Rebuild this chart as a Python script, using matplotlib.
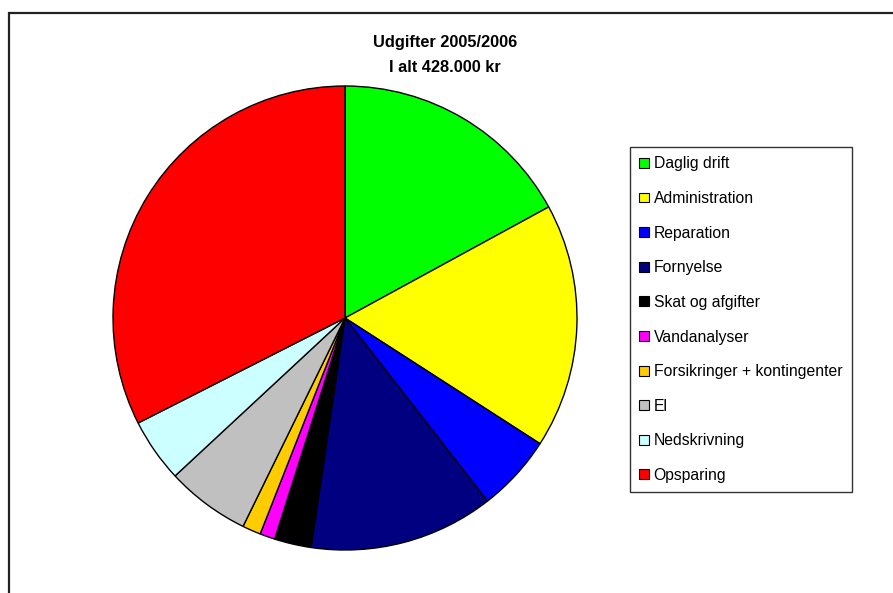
import matplotlib.pyplot as plt
from matplotlib.patches import Patch, Rectangle

# udgifter i kr
kategorier = ["Daglig drift", "Administration", "Reparation", "Fornyelse",
              "Skat og afgifter", "Vandanalyser", "Forsikringer + kontingenter",
              "El", "Nedskrivning", "Opsparing"]
beloeb = [73000, 73000, 23000, 55000, 11000, 4500, 5500, 25000, 19000, 139000]
farver = ["#00FF00", "#FFFF00", "#0000FF", "#000080", "#000000",
          "#FF00FF", "#FFCC00", "#C0C0C0", "#CCFFFF", "#FF0000"]

plt.rcParams['font.family'] = ['Liberation Sans', 'DejaVu Sans']

W, H = 893, 593
fig = plt.figure(figsize=(W / 100, H / 100), dpi=100)

# ramme (diagramområde, beskåret)
fig.patches.append(Rectangle((9 / W, -0.1), 1.2, 1 - 13 / H + 0.1,
                             transform=fig.transFigure, fill=False,
                             edgecolor="#222222", linewidth=1.6))

# lagkage
cx, cy, r = 345, 318, 232
lim = 1.02
ax = fig.add_axes([(cx - r * lim) / W, (H - cy - r * lim) / H,
                   2 * r * lim / W, 2 * r * lim / H])
wedges, _ = ax.pie(beloeb, colors=farver, startangle=90, counterclock=False,
                   wedgeprops=dict(edgecolor="black", linewidth=1))
ax.set_xlim(-lim, lim)
ax.set_ylim(-lim, lim)
ax.set_aspect("equal")

fig.text(445 / W, 1 - 55 / H, "Udgifter 2005/2006\nI alt 428.000 kr",
         ha="center", va="center", fontsize=11.8, fontweight="bold",
         linespacing=1.75)

handles = [Patch(facecolor=c, edgecolor="black", linewidth=0.8) for c in farver]
leg = fig.legend(handles, kategorier, loc="upper left",
                 bbox_to_anchor=(630 / W, 1 - 147 / H), fontsize=11.3,
                 frameon=True, fancybox=False, borderpad=0.6,
                 labelspacing=1.25, handlelength=0.6, handleheight=0.6,
                 handletextpad=0.3, borderaxespad=0)
leg.get_frame().set_edgecolor("black")
leg.get_frame().set_linewidth(1)

fig.savefig("out.png", dpi=100)
